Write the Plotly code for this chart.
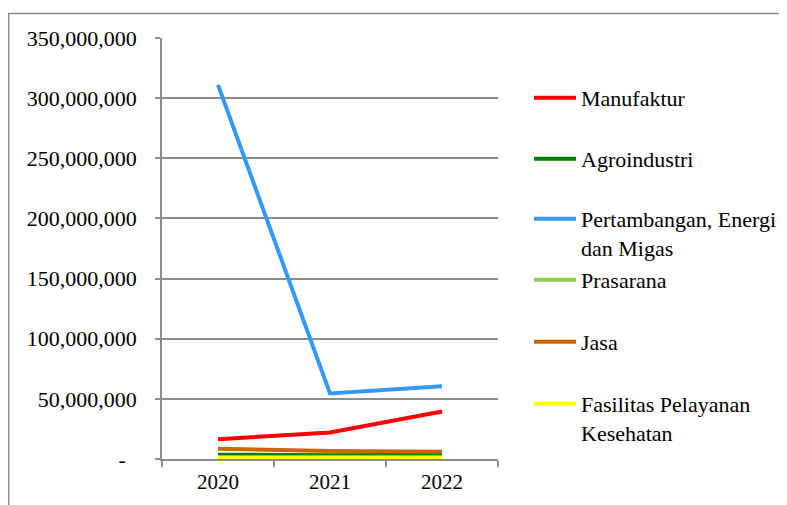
import plotly.graph_objects as go

years = ["2020", "2021", "2022"]
series_names = [
    "Manufaktur",
    "Agroindustri",
    "Pertambangan, Energi<br>dan Migas",
    "Prasarana",
    "Jasa",
    "Fasilitas Pelayanan<br>Kesehatan",
]
manufaktur = [16.5e6, 22.0e6, 39.5e6]
agroindustri = [3.6e6, 3.1e6, 3.5e6]
pertambangan = [311.0e6, 54.5e6, 60.5e6]
prasarana = [1.0e6, 1.0e6, 1.0e6]
jasa = [8.6e6, 6.6e6, 6.0e6]
fasilitas = [1.3e6, 1.3e6, 1.3e6]
colors = ["#FF0000", "#008000", "#3399FF", "#92D050", "#CC6600", "#FFFF00"]
values = [manufaktur, agroindustri, pertambangan, prasarana, jasa, fasilitas]

y_tickvals = [0, 50e6, 100e6, 150e6, 200e6, 250e6, 300e6, 350e6]
y_ticktext = ["-\u00a0\u00a0", "50,000,000", "100,000,000", "150,000,000", "200,000,000",
              "250,000,000", "300,000,000", "350,000,000"]

FONT = "Liberation Serif"
OFF = 8  # page body margin
W, H = 787 - OFF, 505 - OFF
L, R, T, B = 162 - OFF, 498 - OFF, 38 - OFF, 459 - OFF

fig = go.Figure()
legend_rows = [97, 158, 218, 279, 341, 403]
layout_legends = {}
for i, (name, vals, col) in enumerate(zip(series_names, values, colors)):
    lg = "legend" if i == 0 else f"legend{i+1}"
    fig.add_trace(go.Scatter(
        x=years, y=vals, name=name, mode="lines",
        line=dict(color=col, width=4), cliponaxis=False,
        legend=lg, hoverinfo="skip",
    ))
    ypx = legend_rows[i] - OFF - 20
    layout_legends[lg] = dict(
        xref="container", yref="container",
        x=(529 - OFF) / W, xanchor="left",
        y=1 - ypx / H, yanchor="top",
        font=dict(family=FONT, size=22, color="#000000"),
        bgcolor="rgba(0,0,0,0)", borderwidth=0,
        itemwidth=42, valign="top", itemclick=False, itemdoubleclick=False,
    )

fig.update_layout(
    width=W, height=H,
    margin=dict(l=L, r=W - R, t=T, b=H - B, pad=0),
    paper_bgcolor="white", plot_bgcolor="white",
    font=dict(family=FONT, size=21, color="#000000"),
    showlegend=True,
    **layout_legends,
    xaxis=dict(
        type="category", range=[-0.5, 2.5],
        showline=True, linecolor="#8c8c8c", linewidth=1.5,
        ticks="outside", tickson="boundaries", ticklen=6, tickcolor="#8c8c8c", tickwidth=1.5,
        showgrid=False, tickfont=dict(family=FONT, size=21), layer="below traces",
        ticklabelstandoff=3, automargin=False,
    ),
    yaxis=dict(
        range=[0, 350e6], tickvals=y_tickvals, ticktext=y_ticktext,
        showline=True, linecolor="#8c8c8c", linewidth=1.5,
        ticks="outside", ticklen=5, tickcolor="#8c8c8c", tickwidth=1.5,
        showgrid=True, gridcolor="#8c8c8c", gridwidth=1.5, zeroline=False,
        tickfont=dict(family=FONT, size=22), ticklabelstandoff=14,
        layer="below traces", automargin=False,
    ),
    shapes=[dict(
        type="rect", xref="paper", yref="paper",
        x0=(8 - OFF - L) / (R - L) + 0.002, x1=(800 - OFF - L) / (R - L),
        y0=(B - 520) / (B - T), y1=(B - (13.5 - OFF)) / (B - T),
        line=dict(color="#8c8c8c", width=1.5), fillcolor="rgba(0,0,0,0)", layer="below",
    )],
)

fig.write_html("out.html")
